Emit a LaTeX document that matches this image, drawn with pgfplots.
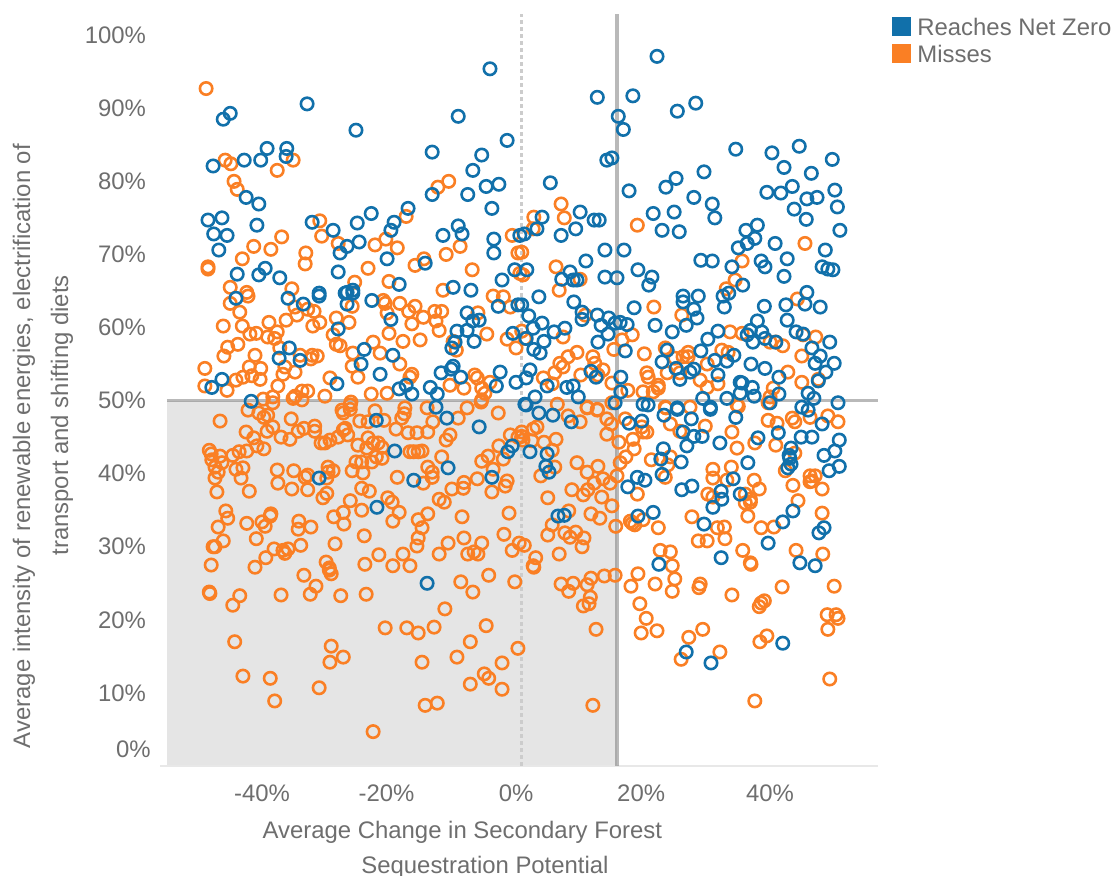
\documentclass[border=0pt]{standalone}
\usepackage{fontspec}
\setmainfont{Liberation Sans}
\usepackage{pgfplots}
\pgfplotsset{compat=1.18}
\definecolor{netblue}{HTML}{1170AA}
\definecolor{missorange}{HTML}{FA7F24}
\definecolor{txt}{HTML}{6E6E6E}
\newcommand{\lab}{\fontsize{11.95}{14}\selectfont\color{txt}}
\begin{document}
\begin{tikzpicture}[x=1pt,y=1pt]
\path[use as bounding box] (-80pt,-55pt) rectangle (477.5pt,383pt);
\begin{axis}[
  at={(0pt,0pt)},anchor=south west,
  scale only axis,width=359pt,height=376pt,
  xmin=-56.06,xmax=57.0,ymin=0,ymax=102.9,
  axis line style={draw=none},
  clip=false,
  xtick={-40,-20.4,0,19.7,40},
  xticklabels={-40\%,-20\%,0\%,20\%,40\%},
  ytick={10,20,30,40,50,60,70,80,90,100},
  yticklabels={10\%,20\%,30\%,40\%,50\%,60\%,70\%,80\%,90\%,100\%},
  tick style={draw=none},
  xticklabel style={font=\lab,yshift=-6pt},
  yticklabel style={font=\lab,xshift=-3.5pt},
  /pgf/number format/assume math mode=true,
]
\addplot[draw=none,fill=black!10] coordinates {(-54.96,0) (15.9,0) (15.9,50) (-54.96,50)} -- cycle;
\addplot[draw=black!9,line width=0.8pt] coordinates {(-56.06,0) (57,0)};
\addplot[draw=black!20,line width=1.1pt,dash pattern=on 2pt off 1.5pt] coordinates {(0.87,0) (0.87,102.9)};
\addplot[only marks,mark=o,mark size=3.1pt,mark options={draw=missorange,line width=1.3pt,fill=none}] coordinates {
(-48.8,92.7) (-45.8,82.9) (-44.9,82.4) (-35.1,82.9) (-37.6,81.5) (-44.4,80.0) (-43.9,78.9) (-12.3,79.2) (-10.6,80.0) (-17.3,75.2)
(-30.9,74.6) (-30.6,72.5) (-28.0,71.5) (-36.9,72.4) (-41.3,71.1) (-38.6,70.7) (-43.1,69.4) (-48.5,68.3) (-48.5,68.0) (-33.1,70.2)
(-33.2,68.7) (-22.2,71.3) (-20.5,72.1) (-18.7,70.9) (-23.3,68.1) (-15.9,68.5) (-14.5,69.4) (-11.0,70.0) (-8.8,71.1) (-6.9,67.9)
(-0.6,72.6) (0.3,70.2) (0.6,67.4) (-25.4,66.2) (-20.0,66.3) (-45.0,65.5) (-35.3,65.3) (-11.5,65.1) (-42.4,64.8)
(7.1,76.9) (2.8,75.1) (7.6,75.0) (2.7,73.5) (19.1,74.0) (0.9,70.3) (45.5,71.5) (6.3,68.3) (10.1,66.6) (1.1,67.2) (35.6,69.1) (34.5,66.5) (33.1,65.3) (6.8,65.1)
(-42.2,64.3) (-45.0,63.3) (-43.5,62.1) (-46.1,60.2) (-43.1,60.2) (-38.9,60.7) (-36.2,61.0) (-34.5,61.7) (-34.8,62.8) (-32.8,62.5) (-31.8,62.2) (-30.9,60.7) (-32.0,60.2)
(-28.3,61.3) (-26.3,60.7) (-25.8,62.9) (-20.9,63.7) (-20.6,63.3) (-18.3,63.3) (-15.9,62.9) (-16.9,62.2) (-14.6,61.4) (-12.8,62.2) (-11.7,62.2) (-12.6,60.9) (-12.1,59.6)
(-16.4,60.5) (-20.3,62.0) (-20.0,59.2) (-17.8,58.1) (-15.1,58.3) (-22.5,58.0) (-21.4,56.5) (-18.3,55.0) (-25.7,56.5) (-25.8,54.7) (-24.9,53.2) (-28.8,59.0) (-28.3,57.7) (-27.7,57.5) (-29.3,53.1)
(-41.1,56.2) (-43.8,57.7) (-45.4,57.3) (-46.0,56.1) (-49.0,54.4) (-49.0,52.0) (-45.5,51.4) (-44.1,52.8) (-43.0,53.2) (-42.0,54.6) (-40.2,54.4) (-41.6,53.4) (-40.3,52.9)
(-41.9,59.1) (-40.9,59.2) (-39.1,58.7) (-37.6,59.4) (-38.0,58.5) (-36.7,53.6) (-36.4,54.6) (-34.8,53.9) (-37.5,52.0) (-37.2,57.2) (-34.0,56.2) (-32.1,56.2) (-31.3,56.1) (-32.3,55.7)
(-22.8,50.9) (-20.3,51.0) (-30.1,50.6) (-32.8,51.3) (-33.7,51.3) (-34.8,50.6) (-35.1,50.3) (-33.7,50.1) (-39.8,50.2) (-38.3,50.5) (-38.3,49.7)
(-10.4,52.1) (-8.2,51.7) (-6.5,53.5) (-6.1,53.1) (-5.4,51.7) (-4.9,51.0) (-5.4,50.1) (-4.1,52.5) (-0.9,62.8) (-3.6,64.3) (-2.0,64.2) (-4.6,59.1) (-1.4,58.4) (0,57.2) (-9.9,58.1) (-9.4,56.9) (-6.0,62.0)
(-16.7,53.2) (-16.4,53.6) (-26.0,49.8) (-26.1,49.4) (-27.4,48.7)
(21.7,62.8) (26.1,61.7) (44.3,63.9) (10.9,61.7) (0.9,59.5) (1.4,58.5) (7.4,58.7) (18.3,59.0) (16.7,58.3) (15.4,57.0) (20.2,56.4) (9.6,56.6) (8.2,56.0) (12.1,56.0) (12.4,55.1) (6.9,55.1) (7.4,54.6) (6.1,53.8)
(13.7,54.2) (12.9,53.5) (10.2,53.5) (4.3,53.1) (5.7,52.3) (15.1,52.4) (17.6,51.4) (20.6,53.8) (20.8,53.2) (22.4,52.1) (22.4,51.7) (21.6,51.2) (20.0,51.2)
(23.5,57.2) (25.0,55.8) (27.1,56.6) (27.1,56.0) (26.3,56.0) (30.1,55.0) (32.4,56.9) (33.4,56.6) (23.8,53.8) (25.8,53.8) (29.0,52.8) (30.1,51.8) (31.8,52.3)
(33.7,59.4) (35.6,59.2) (40.0,58.0) (40.9,58.0) (42.0,57.5) (45.2,59.0) (47.2,58.7) (45.0,56.1) (42.8,53.9) (45.0,52.5) (47.6,52.9) (40.5,51.7) (40.0,50.5) (39.7,49.7)
(34.8,49.4) (27.4,49.1) (23.5,49.1) (6.5,49.5) (11.2,49.1) (12.8,48.8) (15.1,49.7)
(-46.6,47.2) (-42.2,48.7) (-40.5,48.3) (-39.7,47.7) (-39.1,48.0) (-35.4,47.5) (-38.3,46.4) (-39.2,45.8) (-42.5,45.7) (-37.0,45.0) (-35.6,44.7) (-34.3,45.8) (-33.4,46.2) (-31.7,46.5) (-31.7,45.8)
(-41.3,44.9) (-40.8,43.8) (-39.7,43.4) (-42.4,43.1) (-43.6,43.0) (-44.6,42.5) (-48.3,43.2) (-48.0,42.7) (-46.6,42.4) (-47.9,41.9) (-46.3,41.5) (-47.4,40.9) (-46.9,40.2) (-47.4,39.4) (-47.1,37.5)
(-44.1,40.6) (-43.0,40.8) (-43.3,39.4) (-42.0,37.6) (-37.6,40.5) (-37.5,38.7) (-35.0,40.4) (-35.3,37.9) (-32.8,39.8) (-33.2,39.5) (-32.8,37.8) (-30.4,36.7) (-29.8,37.3) (-29.8,39.4) (-29.6,40.9) (-28.8,40.4) (-29.6,40.2)
(-30.7,44.2) (-30.1,44.2) (-29.3,44.6) (-28.0,45.0) (-27.2,46.0) (-26.9,46.2) (-26.5,45.3) (-24.9,43.9) (-23.3,44.9) (-22.5,44.2) (-23.5,43.5) (-21.7,44.2) (-21.1,43.6) (-21.1,42.1) (-22.0,42.3) (-22.7,41.6)
(-24.3,41.6) (-25.2,41.6) (-25.8,40.4) (-24.1,40.1) (-24.3,38.0) (-23.1,37.6) (-27.2,48.3) (-26.1,48.8) (-24.6,47.2) (-23.3,47.1) (-22.2,48.6) (-20.8,47.3) (-18.9,46.1) (-18.0,47.6) (-17.6,48.2) (-17.5,49.0)
(-17.0,45.6) (-15.6,45.6) (-13.9,45.7) (-13.1,47.1) (-14.0,49.0) (-9.1,47.6) (-7.7,49.0) (-2.8,48.3) (-5.5,49.8) (-10.4,45.3) (-11.0,44.6) (-16.7,43.0) (-16.1,43.0) (-15.4,43.0) (-14.8,43.1) (-11.7,42.3)
(-13.9,40.9) (-13.2,40.2) (-13.2,39.5) (-14.6,38.7) (-18.7,39.5) (-20.2,36.7) (-19.5,36.1) (-18.4,34.7) (-19.4,33.5) (-13.9,34.5) (-15.4,33.7) (-14.8,32.6) (-15.4,31.2) (-15.6,30.1) (-8.5,34.1)
(-12.1,36.5) (-11.3,36.1) (-10.1,37.9) (-8.3,38.0) (-8.2,38.8) (-6.1,39.3) (-3.8,37.5) (-1.7,38.3) (-1.4,39.0) (-3.6,40.6) (-5.4,41.7) (-4.4,42.4) (-2.0,42.0) (-2.7,43.8) (-0.9,45.3) (0.3,45.0)
(-1.1,34.6) (-1.9,31.7) (-0.6,29.5) (0.5,30.5) (-45.7,34.9) (-45.4,33.9) (-46.9,32.7) (-46.1,30.8) (-47.7,30.0) (-47.4,30.0) (-48.0,27.5) (-42.4,33.2) (-40.0,33.4) (-39.5,32.8) (-38.7,34.2) (-38.6,34.5) (-40.9,31.1)
(-34.2,33.5) (-34.3,32.4) (-32.3,32.7) (-28.7,34.1) (-27.2,34.7) (-26.1,36.3) (-24.3,35.0) (-27.1,33.1) (-23.9,31.5) (-33.9,30.2) (-35.9,29.7) (-36.7,29.5) (-36.4,29.1) (-38.1,29.7) (-39.4,28.5) (-41.1,27.2)
(-28.5,30.4) (-29.9,27.9) (-29.4,27.1) (-23.8,27.6) (-21.6,28.9) (-17.8,29.0) (-19.4,27.4) (-16.7,27.4) (-12.1,29.0) (-10.7,30.5) (-8.2,31.2) (-7.6,29.0) (-6.6,29.3) (-6.0,29.0) (-5.4,30.5)
(8.2,47.9) (10.1,47.1) (11.2,49.0) (12.8,48.7) (14.3,47.5) (15.0,46.8) (14.3,45.4) (16.2,44.3) (17.2,47.5) (18.4,44.7) (18.6,43.4) (17.3,42.3) (16.4,41.5) (15.9,39.7) (14.8,38.7) (13.7,39.3) (12.9,41.0)
(11.2,40.2) (9.6,41.5) (12.3,38.7) (11.3,37.8) (10.6,37.1) (13.5,36.8) (8.8,37.8) (5.0,36.7) (15.1,35.6) (8.3,34.9) (11.8,34.5) (13.2,33.9) (15.7,32.8) (5.7,33.0) (5.0,31.6) (7.7,31.9) (8.5,31.3) (9.4,32.0)
(10.7,31.2) (10.4,30.0) (6.8,29.0) (1.3,30.2) (3.1,28.5) (2.7,27.4) (6.3,44.7) (5.7,43.2) (4.4,44.3) (6.1,40.9) (3.9,39.7) (3.3,46.4) (2.7,46.1) (0.9,45.7) (1.1,44.6) (2.5,44.5) (0.9,45.1)
(19.8,46.4) (20.6,45.7) (20.0,45.7) (24.3,46.8) (23.6,49.0) (25.8,45.8) (29.8,46.5) (34.0,45.7) (35.0,49.2) (39.7,47.3) (41.1,46.9) (43.9,47.1) (43.5,47.6) (46.3,47.7) (49.1,47.9) (50.7,47.1)
(37.6,44.2) (40.9,43.9) (34.8,43.5) (43.9,42.8) (24.3,42.3) (23.9,41.2) (21.3,41.9) (23.5,39.5) (33.9,40.9) (31.0,40.6) (31.0,39.4) (33.2,39.1) (37.5,39.1) (38.3,37.9) (42.4,40.4) (43.6,38.4) (48.2,37.9)
(46.3,39.7) (47.1,39.7) (46.6,39.0) (46.3,38.9) (44.4,36.3) (48.2,34.6) (30.2,37.2) (31.0,36.8) (19.1,37.2) (36.1,37.2) (36.9,36.5) (36.1,36.0) (36.9,36.1) (36.5,34.2) (27.7,34.1) (18.0,33.5) (18.7,33.0) (18.3,33.2)
(20.0,33.7) (22.4,32.6) (31.7,32.6) (32.8,32.7) (38.6,32.6) (40.6,32.7) (28.7,30.8) (30.1,30.8) (32.9,31.1) (22.7,29.5) (24.3,29.3) (35.7,29.5) (36.9,27.8) (44.1,29.5) (48.3,29.0) (24.6,27.4)
(-33.4,26.1) (-29.4,26.8) (-29.1,26.3) (-8.7,25.2) (-6.8,23.8) (-4.3,26.1) (-0.2,25.2) (2.8,27.2) (7.1,24.9) (9.0,25.0) (8.3,23.9) (11.2,24.8) (11.8,25.7) (13.9,26.0) (15.6,26.1) (19.2,26.3) (18.1,24.6) (21.9,24.9)
(25.0,25.6) (24.6,23.9) (29.0,24.9) (28.8,24.4) (34.0,23.4) (37.0,27.6) (41.9,24.5) (50.1,24.6) (39.1,22.6) (38.6,22.3) (38.3,21.8) (49.0,20.7) (50.4,20.7) (50.7,20.2) (49.1,18.7) (39.5,17.8) (38.4,17.0)
(32.1,15.6) (29.4,18.7) (27.2,17.6) (26.0,14.6) (22.2,18.5) (19.7,18.2) (20.5,20.2) (19.5,22.2) (49.4,11.9) (37.6,8.9) (12.1,8.3) (12.6,18.7) (11.7,23.1) (11.5,22.2) (10.6,21.9)
(0.3,16.1) (-2.2,14.1) (-2.2,10.5) (-4.3,12.0) (-5.0,12.6) (-7.2,11.2) (-9.3,14.9) (-7.2,17.0) (-4.7,19.2) (-11.2,21.5) (-12.9,19.0) (-15.4,18.2) (-17.2,18.9) (-20.6,18.9) (-14.8,14.2) (-14.3,8.3) (-12.4,8.6) (-22.5,4.7)
(-23.6,23.5) (-27.6,23.3) (-31.5,24.6) (-32.4,23.5) (-37.0,23.4) (-43.5,23.3) (-44.6,22.0) (-48.3,23.8) (-48.2,23.6) (-44.3,17.0) (-43.0,12.3) (-38.7,12.0) (-38.0,8.9) (-31.0,10.7) (-29.1,16.4) (-27.2,14.9) (-29.3,14.2)
};
\addplot[only marks,mark=o,mark size=3.1pt,mark options={draw=netblue,line width=1.3pt,fill=none}] coordinates {
(-4.1,95.4) (-32.9,90.6) (-45.0,89.3) (-46.1,88.5) (-25.2,87.0) (-9.1,88.9) (-1.4,85.6) (-39.2,84.5) (-36.1,84.5) (-36.2,83.4) (-42.8,82.9) (-40.2,82.9) (-47.7,82.1) (-13.2,84.0) (-5.4,83.6) (-6.8,81.5) (-4.7,79.3) (-2.7,79.6)
(-13.2,78.2) (-7.6,78.2) (-3.8,76.3) (-42.5,77.8) (-40.5,76.9) (-48.5,74.7) (-46.3,75.0) (-40.8,74.0) (-47.6,72.8) (-45.5,72.6) (-46.8,70.6) (-43.9,67.3) (-40.5,67.2) (-39.5,68.1) (-37.2,66.8)
(-32.1,74.4) (-28.8,73.3) (-25.0,74.3) (-22.8,75.6) (-17.0,76.3) (-19.2,74.4) (-19.7,73.3) (-24.7,71.7) (-26.6,71.1) (-27.7,70.2) (-20.3,69.4) (-14.3,68.8) (-28.0,67.6) (-11.5,72.6) (-9.1,73.9) (-8.5,72.8) (-3.5,72.1) (-3.5,70.2)
(-0.2,67.9) (-2.2,66.5) (-18.4,65.9) (-9.9,65.5) (-7.1,65.1) (-26.6,64.8) (-25.7,65.1) (-31.0,64.7) (0.6,72.6)
(22.2,97.1) (12.8,91.5) (18.4,91.7) (16.1,88.9) (16.9,87.1) (25.4,89.6) (28.3,90.7) (34.6,84.4) (40.3,83.9) (44.6,84.8) (49.8,83.0) (42.2,81.9) (46.5,81.1) (15.1,83.2) (14.3,82.9) (5.4,79.8) (17.8,78.7) (25.2,80.4) (23.6,79.2) (29.6,81.3)
(28.0,77.8) (30.9,76.9) (31.3,75.0) (39.5,78.5) (41.7,78.4) (43.5,79.3) (45.8,77.6) (47.4,77.8) (50.2,78.8) (50.6,76.5) (43.8,76.2) (45.7,74.8) (51.0,73.3) (38.0,74.0) (36.2,73.3) (37.6,72.2) (36.4,71.5) (35.0,70.9) (40.8,71.5)
(42.7,69.4) (42.2,67.0) (48.7,70.6) (48.2,68.3) (49.1,68.0) (49.9,67.9) (38.6,69.1) (39.2,68.3) (34.0,68.3) (29.1,69.2) (30.9,69.1) (19.2,67.9) (21.4,66.9) (20.9,65.8) (14.0,66.9) (15.9,66.8) (11.0,69.1) (8.5,67.6) (7.2,66.6) (9.0,66.5) (9.6,66.5) (1.7,67.9)
(14.0,70.6) (17.0,70.6) (9.4,73.5) (7.1,72.6) (3.3,73.5) (1.3,72.8) (4.1,75.1) (10.1,75.8) (12.3,74.7) (13.1,74.7) (21.6,75.6) (24.9,75.8) (23.0,73.3) (25.7,73.1)
(3.6,64.2) (9.1,63.5) (10.4,61.1) (10.4,62.1) (12.8,61.7) (14.6,61.3) (13.4,60.3) (16.4,60.7) (17.5,60.4) (15.6,60.6) (14.5,59.1) (12.9,58.0) (18.6,62.7) (21.9,60.3) (24.6,59.4) (26.8,60.3) (26.3,64.3) (26.3,63.5) (28.7,64.3) (28.0,62.5) (28.5,61.3)
(32.6,64.3) (33.5,64.7) (32.8,62.8) (35.7,65.8) (39.1,62.9) (42.5,63.1) (45.5,63.2) (45.8,64.8) (47.9,62.8) (42.7,61.0) (38.0,60.9) (31.8,59.5) (30.2,58.4) (29.1,56.8) (36.9,59.6) (38.7,59.4) (36.4,59.0) (37.3,58.0) (39.2,58.5) (40.9,58.0)
(44.1,59.4) (45.2,59.1) (49.4,58.0) (46.6,57.2) (47.9,56.1) (47.1,55.1) (50.1,55.1) (48.8,53.9) (47.6,52.7) (41.4,53.2) (39.2,54.4) (37.0,55.0) (34.3,56.2) (33.2,55.4) (31.3,55.5) (31.8,53.5) (28.0,54.3) (27.4,53.9) (25.8,52.9) (25.2,54.4) (23.0,55.3) (23.8,56.9)
(17.2,56.8) (16.5,53.2) (16.5,51.2) (12.6,53.2) (11.8,54.0) (9.8,50.5) (9.0,52.0) (8.0,51.8) (4.9,52.0) (3.0,50.5) (2.2,54.2) (1.6,53.1) (7.7,59.9) (6.0,59.4) (4.1,60.6) (2.7,59.9) (2.0,61.6) (4.4,58.1) (3.8,56.5) (2.8,57.0) (1.6,58.5) (0.9,63.1)
(35.3,52.5) (35.6,52.4) (37.2,51.8) (35.3,51.0) (33.2,50.3) (37.5,50.6) (29.4,50.3) (41.4,50.9) (46.0,51.0) (46.9,50.3) (50.7,49.7) (45.0,49.1) (46.0,48.7) (40.0,49.7) (30.6,49.1) (25.4,49.0) (20.8,49.4) (20.0,49.5) (15.6,49.7) (1.4,49.5)
(3.6,48.3) (5.8,48.0) (8.7,47.1) (1.6,49.4) (2.2,43.0) (4.9,42.7) (4.7,41.0) (5.2,40.2) (17.8,46.9) (19.8,47.2) (23.3,48.0) (25.4,48.8) (27.6,47.5) (30.6,48.8) (34.6,47.7) (26.3,45.7) (28.0,45.1) (29.3,45.1) (26.9,43.8) (32.1,44.2) (38.1,44.9) (41.3,45.6)
(44.9,45.0) (46.6,45.0) (48.2,46.8) (50.9,44.6) (50.2,43.1) (48.5,42.5) (50.9,41.0) (49.3,40.4) (43.3,43.5) (43.0,42.5) (43.1,42.1) (43.3,41.3) (42.8,40.8) (36.5,41.5) (26.0,41.6) (23.2,43.4) (22.8,42.0) (23.0,39.9) (19.1,39.5) (20.3,39.1) (17.6,38.2)
(34.2,39.3) (32.3,37.6) (32.4,36.5) (31.0,35.4) (35.3,37.2) (26.1,37.8) (27.7,38.3) (19.2,34.2) (21.6,34.7) (29.6,33.1) (6.6,34.2) (7.6,34.3) (42.0,33.4) (43.6,34.9) (39.7,30.5) (48.5,32.6) (47.7,31.9) (32.3,28.5) (44.7,27.8) (47.1,27.4) (22.5,27.6)
(-14.0,25.0) (26.8,15.6) (30.7,14.1) (42.0,16.8)
(-31.0,39.4) (-21.9,35.4) (-41.7,49.9) (-22.0,47.3) (-19.1,43.1) (-16.1,39.1) (-10.7,40.8) (-12.6,49.1) (-10.9,47.6) (-5.8,46.4) (-3.8,39.5) (-1.3,43.0) (-0.6,43.8)
(-44.1,64.0) (-46.3,52.9) (-47.9,51.8) (-35.9,64.0) (-33.5,63.2) (-31.0,64.3) (-26.9,64.7) (-25.7,64.7) (-26.6,63.2) (-22.7,63.7) (-2.8,62.9) (-19.7,61.1) (-28.0,59.8) (-7.7,62.0) (-5.8,61.0) (-6.8,60.9) (-7.7,59.6) (-9.3,59.5) (-6.6,58.1) (-9.6,58.0) (-10.1,57.2)
(-0.5,59.2) (0.3,63.1) (-35.7,57.2) (-37.3,55.8) (-34.0,55.5) (-23.9,57.0) (-24.4,55.0) (-19.4,56.2) (-21.4,53.6) (-28.2,52.3) (-11.8,53.8) (-9.9,54.7) (-10.2,54.3) (-8.7,53.2) (-2.5,53.9) (-3.1,52.0) (0,52.5) (-13.5,51.8) (-12.4,50.9) (-18.4,51.6) (-17.3,52.1) (-16.4,50.9)
};
\addplot[draw=black!55,draw opacity=0.5,line width=1.4pt] coordinates {(-54.96,50) (57,50)};
\addplot[draw=black!55,draw opacity=0.5,line width=1.6pt] coordinates {(15.9,0) (15.9,102.9)};
\end{axis}
% labels placed in page coordinates (0.5pt per reference pixel, origin at the axis corner)
\node[anchor=east,inner sep=0pt,font=\lab] at (-4.5pt,8.5pt) {0\%};
\node[rotate=90,inner sep=0pt,font=\lab] at (-68pt,160pt) {Average intensity of renewable energies, electrification of};
\node[rotate=90,inner sep=0pt,font=\lab] at (-49pt,175.3pt) {transport and shifting diets};
\node[inner sep=0pt,font=\lab] at (151.2pt,-33pt) {Average Change in Secondary Forest};
\node[inner sep=0pt,font=\lab] at (162.5pt,-50.5pt) {Sequestration Potential};
\fill[netblue] (366pt,365pt) rectangle (375.5pt,374.5pt);
\fill[missorange] (366pt,351.5pt) rectangle (375.5pt,361pt);
\node[anchor=west,inner sep=0pt,font=\lab] at (378.5pt,369.5pt) {Reaches Net Zero};
\node[anchor=west,inner sep=0pt,font=\lab] at (378.5pt,356pt) {Misses};
\end{tikzpicture}
\end{document}
